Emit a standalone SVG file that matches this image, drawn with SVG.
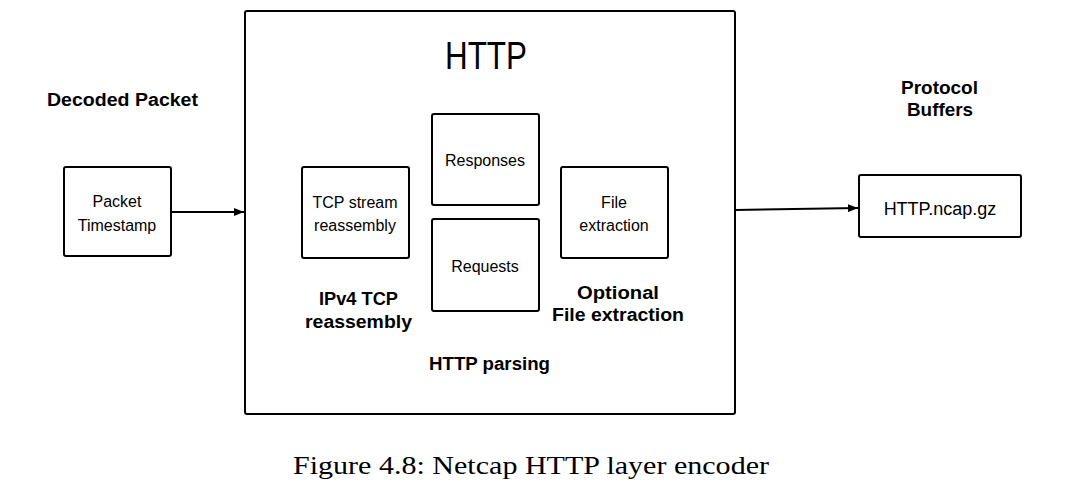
<svg xmlns="http://www.w3.org/2000/svg" width="1080" height="498" viewBox="0 0 1080 498">
<style>
.box{fill:#fff;stroke:#000;stroke-width:2}
.t{font-family:"Liberation Sans",Arial,sans-serif;font-size:16px;text-anchor:middle;fill:#000}
.b{font-family:"Liberation Sans",Arial,sans-serif;font-size:18px;font-weight:bold;text-anchor:middle;fill:#000}
.cap{font-family:"Liberation Serif","Times New Roman",serif;font-size:25px;text-anchor:middle;fill:#000}
.ln{stroke:#000;stroke-width:2;fill:none}
</style>
<defs>
<marker id="ah" markerWidth="10" markerHeight="8" refX="10" refY="4" orient="auto" markerUnits="userSpaceOnUse">
<path d="M0,0 L10,4 L0,8 z" fill="#000"/>
</marker>
</defs>
<rect width="1080" height="498" fill="#fff"/>
<g id="http">
<rect class="box" x="245" y="11" width="490" height="403" rx="2"/>
<text x="486" y="69" textLength="82" lengthAdjust="spacingAndGlyphs" style="font-family:'Liberation Sans',Arial,sans-serif;font-size:38px;text-anchor:middle">HTTP</text>
</g>
<g id="decoded-label"><text class="b" x="122.5" y="106" textLength="151" lengthAdjust="spacingAndGlyphs">Decoded Packet</text></g>
<g id="packet">
<rect class="box" x="64" y="167" width="107" height="89" rx="2"/>
<text class="t" x="117" y="207">Packet</text>
<text class="t" x="117" y="231">Timestamp</text>
</g>
<g id="tcp">
<rect class="box" x="302" y="167" width="107" height="91" rx="2"/>
<text class="t" x="355" y="208">TCP stream</text>
<text class="t" x="355" y="231">reassembly</text>
<text class="b" x="358.5" y="305" textLength="79" lengthAdjust="spacingAndGlyphs">IPv4 TCP</text>
<text class="b" x="358.5" y="328" textLength="107" lengthAdjust="spacingAndGlyphs">reassembly</text>
</g>
<g id="responses">
<rect class="box" x="432" y="114" width="107" height="91" rx="2"/>
<text class="t" x="485" y="166">Responses</text>
</g>
<g id="requests">
<rect class="box" x="432" y="219" width="107" height="92" rx="2"/>
<text class="t" x="485" y="272">Requests</text>
<text class="b" x="489.5" y="370" textLength="121" lengthAdjust="spacingAndGlyphs">HTTP parsing</text>
</g>
<g id="file">
<rect class="box" x="561" y="167" width="107" height="91" rx="2"/>
<text class="t" x="614" y="208">File</text>
<text class="t" x="614" y="231">extraction</text>
<text class="b" x="618" y="299" textLength="82" lengthAdjust="spacingAndGlyphs">Optional</text>
<text class="b" x="618" y="321" textLength="132" lengthAdjust="spacingAndGlyphs">File extraction</text>
</g>
<g id="protobuf-label">
<text class="b" x="939.5" y="94" textLength="77" lengthAdjust="spacingAndGlyphs">Protocol</text>
<text class="b" x="940" y="116" textLength="66" lengthAdjust="spacingAndGlyphs">Buffers</text>
</g>
<g id="ncap">
<rect class="box" x="859" y="175" width="162" height="62" rx="2"/>
<text class="t" x="940" y="215" style="font-size:18px">HTTP.ncap.gz</text>
</g>
<g id="connectors">
<line class="ln" x1="171" y1="212" x2="244" y2="212" marker-end="url(#ah)"/>
<line class="ln" x1="735" y1="210" x2="858" y2="208" marker-end="url(#ah)"/>
</g>
<text class="cap" x="531" y="474" textLength="476" lengthAdjust="spacingAndGlyphs">Figure 4.8: Netcap HTTP layer encoder</text>
</svg>
